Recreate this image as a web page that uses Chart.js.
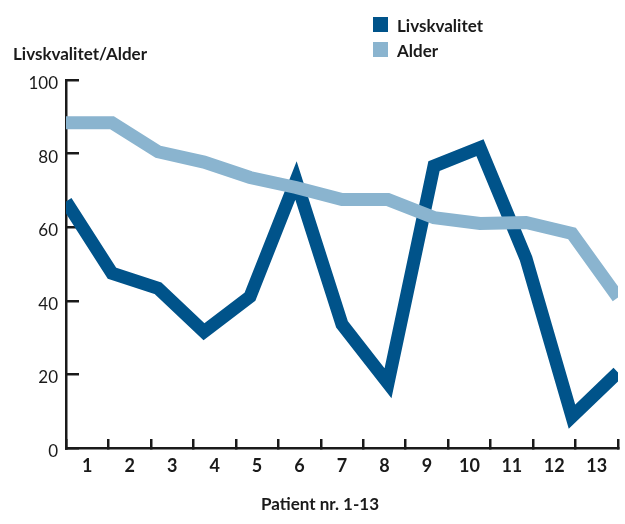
<!DOCTYPE html>
<html>
<head>
<meta charset="utf-8">
<script src="https://cdn.jsdelivr.net/npm/chart.js@4/dist/chart.umd.min.js"></script>
<style>
  html, body { margin: 0; padding: 0; background: #ffffff; }
  #wrap { width: 625px; height: 524px; }
</style>
</head>
<body>
<div id="wrap"><canvas id="c" width="625" height="524"></canvas></div>
<script>
// ---- data ----
const patients = [1, 2, 3, 4, 5, 6, 7, 8, 9, 10, 11, 12, 13];
const categoryLabels = ['1', '2', '3', '4', '5', '6', '7', '8', '9', '10', '11', '12', '13'];
const livskvalitet = [67, 47.5, 43.4, 31.6, 41.1, 72.7, 33.6, 17.6, 76.6, 81.6, 51.5, 8.5, 20.5];
const alder = [88.4, 88.4, 80.5, 77.7, 73.5, 70.8, 67.5, 67.5, 62.6, 61.0, 61.3, 58.3, 40.9];
const yTicks = [0, 20, 40, 60, 80, 100];
const seriesNames = ['Livskvalitet', 'Alder'];
const yTitle = 'Livskvalitet/Alder';
const xTitle = 'Patient nr. 1-13';

const DARK = '#00538a';
const LIGHT = '#8ab4cf';
const INK = '#1a1a1a';

const toPoints = (vals) => vals.map((v, i) => ({ x: patients[i], y: v }));

const annotations = {
  id: 'annotations',
  afterDraw(chart) {
    const ctx = chart.ctx;
    ctx.save();
    ctx.fillStyle = INK;
    ctx.textBaseline = 'alphabetic';
    ctx.font = 'bold 17px Lato';
    ctx.textAlign = 'left';
    ctx.fillText(yTitle, 13, 60);
    ctx.textAlign = 'center';
    ctx.fillText(xTitle, 320, 510);
    // legend
    ctx.textAlign = 'left';
    chart.data.datasets.forEach((ds, i) => {
      const top = 17 + i * 25;
      ctx.fillStyle = ds.borderColor;
      ctx.fillRect(373, top, 15, 15);
      ctx.fillStyle = INK;
      ctx.fillText(ds.label, 397, top + 14.5);
    });
    ctx.restore();
  }
};

new Chart(document.getElementById('c'), {
  type: 'line',
  data: {
    labels: categoryLabels,
    datasets: [
      {
        label: seriesNames[0],
        data: toPoints(livskvalitet),
        xAxisID: 'xl', yAxisID: 'y',
        borderColor: DARK, backgroundColor: DARK,
        borderWidth: 13, pointRadius: 0, tension: 0,
        borderJoinStyle: 'miter', borderCapStyle: 'butt',
        clip: 0, order: 1
      },
      {
        label: seriesNames[1],
        data: toPoints(alder),
        xAxisID: 'xl', yAxisID: 'y',
        borderColor: LIGHT, backgroundColor: LIGHT,
        borderWidth: 13, pointRadius: 0, tension: 0,
        borderJoinStyle: 'miter', borderCapStyle: 'butt',
        clip: 0, order: 0
      }
    ]
  },
  options: {
    responsive: false,
    animation: false,
    devicePixelRatio: 1,
    layout: { padding: { top: 80, right: 7, left: 0, bottom: 0 } },
    plugins: {
      legend: { display: false },
      tooltip: { enabled: false },
      title: { display: false }
    },
    scales: {
      xl: {
        type: 'linear',
        display: false,
        min: patients[0],
        max: patients[patients.length - 1]
      },
      x: {
        type: 'category',
        position: 'bottom',
        offset: true,
        z: 1,
        afterFit(scale) { scale.height = 76; },
        border: { display: true, color: INK, width: 2.5 },
        grid: {
          offset: true,
          drawOnChartArea: false,
          drawTicks: true,
          tickLength: -9,
          color: INK,
          lineWidth: 2.5
        },
        ticks: {
          color: INK,
          padding: 16,
          maxRotation: 0,
          autoSkip: false,
          font: { family: 'Lato', size: 18, weight: 'bold' }
        }
      },
      y: {
        type: 'linear',
        position: 'left',
        min: yTicks[0],
        max: yTicks[yTicks.length - 1],
        z: 1,
        afterFit(scale) { scale.width = 66; },
        afterBuildTicks(scale) { scale.ticks = yTicks.map(v => ({ value: v })); },
        border: { display: true, color: INK, width: 2.5 },
        grid: {
          drawOnChartArea: false,
          drawTicks: true,
          tickLength: -13,
          color: INK,
          lineWidth: 2.5
        },
        ticks: {
          color: INK,
          padding: 21,
          labelOffset: 3.5,
          font: { family: 'Lato', size: 17, weight: 'normal' }
        }
      }
    }
  },
  plugins: [annotations]
});
</script>
</body>
</html>
